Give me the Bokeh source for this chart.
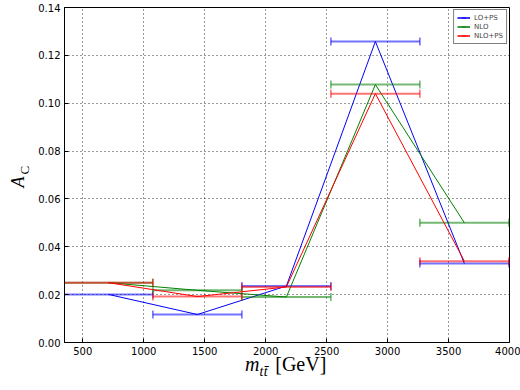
import numpy as np
from bokeh.plotting import figure
from bokeh.models import (ColumnDataSource, FixedTicker, NumeralTickFormatter, Range1d,
                          Legend, LegendItem, Label, Div)
from bokeh.layouts import column
from bokeh.embed import file_html
from bokeh.resources import INLINE

# ---- data ----
bin_lo = [345, 1075, 1805, 2535, 3265]
bin_hi = [1075, 1805, 2535, 3265, 3995]
bin_center = [710, 1440, 2170, 2900, 3630]
lo_ps = [0.0201, 0.0117, 0.0236, 0.1258, 0.0330]
nlo = [0.0250, 0.0218, 0.0190, 0.1078, 0.0500]
nlo_ps = [0.0250, 0.0192, 0.0232, 0.1040, 0.0340]
series_names = ["LO+PS", "NLO", "NLO+PS"]
series_values = [lo_ps, nlo, nlo_ps]
series_colors = ["#0000ff", "#008000", "#ff0000"]
x_ticks = [500, 1000, 1500, 2000, 2500, 3000, 3500, 4000]
y_ticks = [0.0, 0.02, 0.04, 0.06, 0.08, 0.10, 0.12, 0.14]

p = figure(width=520, height=364, output_backend="svg", toolbar_location=None,
           x_range=Range1d(350, 4000), y_range=Range1d(0, 0.14),
           min_border_left=63, min_border_right=11, min_border_top=7, min_border_bottom=22,
           margin=0)
p.background_fill_color = "white"
p.border_fill_color = "white"
p.outline_line_color = "black"
p.outline_line_width = 1

for ax in (p.xaxis[0], p.yaxis[0]):
    ax.major_tick_in = 4
    ax.major_tick_out = 0
    ax.minor_tick_in = 0
    ax.minor_tick_out = 0
    ax.axis_line_color = "black"
    ax.major_label_text_font = "DejaVu Sans"
    ax.major_label_text_font_size = "10px"
    ax.major_label_text_color = "black"
p.xaxis.ticker = FixedTicker(ticks=x_ticks)
p.yaxis.ticker = FixedTicker(ticks=y_ticks)
p.yaxis.formatter = NumeralTickFormatter(format="0.00")
p.xaxis.major_label_standoff = 4
p.yaxis.major_label_standoff = 4

for g in (p.xgrid[0], p.ygrid[0]):
    g.grid_line_color = "black"
    g.grid_line_alpha = 0.8
    g.grid_line_dash = "1 3"
    g.grid_line_width = 1

items = []
for name, vals, col in zip(series_names, series_values, series_colors):
    src = ColumnDataSource(dict(lo=bin_lo, hi=bin_hi, xc=bin_center, y=vals))
    bar = p.segment(x0="lo", x1="hi", y0="y", y1="y", source=src,
                    line_color=col, line_alpha=0.55, line_width=2)
    cap = p.scatter(x="lo", y="y", source=src, marker="dash", angle=np.pi / 2, size=8,
                    line_color=col, line_alpha=0.6, line_width=1.5)
    p.scatter(x="hi", y="y", source=src, marker="dash", angle=np.pi / 2, size=8,
              line_color=col, line_alpha=0.6, line_width=1.5)
    ln = p.line(x="xc", y="y", source=src, line_color=col, line_width=1)
    items.append(LegendItem(label=name, renderers=[bar, ln, cap]))

legend = Legend(items=items, location="top_right", margin=2, padding=3, spacing=0,
                label_text_font="DejaVu Sans", label_text_font_size="7px",
                label_height=9, glyph_height=9, glyph_width=13, label_standoff=4,
                border_line_color="black", border_line_width=1,
                background_fill_alpha=1.0)
p.add_layout(legend)

# y-axis label A_C (pieces placed in the left side panel)
lab_kw = dict(x=350, y=0, x_units="data", y_units="data", text_color="black",
              text_font="Liberation Serif")
p.add_layout(Label(text="A", x_offset=-37, y_offset=155, angle=np.pi / 2,
                   text_font_size="18px", text_font_style="italic", text_align="left",
                   **lab_kw), "left")
p.add_layout(Label(text="C", x_offset=-33, y_offset=168, angle=np.pi / 2,
                   text_font_size="13px", text_align="left", **lab_kw), "left")

# x-axis label m_{t tbar} [GeV]
xlabel = Div(
    text=('<div style="position:relative; top:-10px; font-family:\'Liberation Serif\'; '
          'font-size:20px; line-height:20px; color:black; white-space:nowrap; '
          'padding-left:245px;">'
          '<i>m</i><sub style="font-size:14px; vertical-align:-5px; letter-spacing:0.5px; '
          'padding-right:2px;"><i>t\u0074\u0304</i></sub>'
          '&nbsp;[GeV]</div>'),
    width=520, height=26, margin=0)

layout = column(p, xlabel, margin=0, spacing=0)
open("out.html", "w").write(file_html(layout, INLINE))
